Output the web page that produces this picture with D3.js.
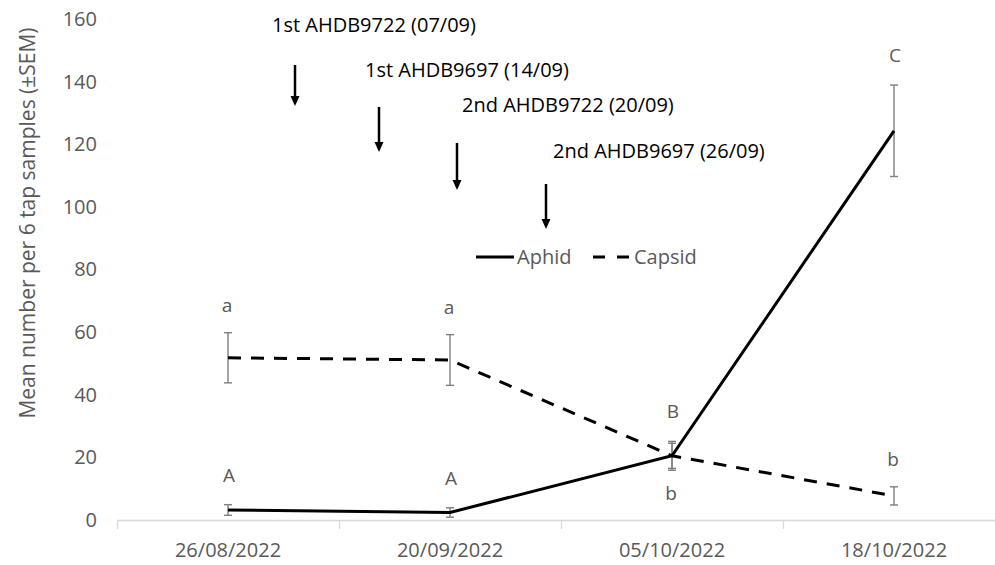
<!DOCTYPE html>
<html><head><meta charset="utf-8">
<script src="https://cdn.jsdelivr.net/npm/d3@7"></script>
<style>
body{margin:0;background:#fff}
svg{display:block}
text{font-family:"Open Sans",sans-serif}
</style>
</head><body>
<svg id="c" width="995" height="565"></svg>
<script>
// ---- data ----
const categories = ["26/08/2022", "20/09/2022", "05/10/2022", "18/10/2022"];
const aphidMean = [3.2, 2.4, 20.5, 124.3];
const aphidSEM = [1.7, 1.5, 4.6, 14.6];
const capsidMean = [51.8, 51.1, 20.5, 7.7];
const capsidSEM = [8.0, 8.1, 4.0, 2.9];
const aphidLetters = ["A", "A", "B", "C"];
const capsidLetters = ["a", "a", "b", "b"];
const capsidLetterSide = ["above", "above", "below", "above"];
const yTicks = [0, 20, 40, 60, 80, 100, 120, 140, 160];
const seriesNames = ["Aphid", "Capsid"];
const yTitle = "Mean number per 6 tap samples (\u00B1SEM)";
const sprayLabels = ["1st AHDB9722 (07/09)", "1st AHDB9697 (14/09)", "2nd AHDB9722 (20/09)", "2nd AHDB9697 (26/09)"];

// ---- layout (annotation placement, pixels) ----
const sprayLayout = [
  {tx: 272, ty: 32,  ax: 295, a0: 65,  a1: 106},
  {tx: 365, ty: 77,  ax: 379, a0: 107, a1: 152},
  {tx: 462, ty: 112, ax: 457, a0: 143, a1: 190},
  {tx: 553, ty: 158, ax: 546, a0: 184, a1: 229}
];

const svg = d3.select("#c");
const grey = "#595959";
const x = d3.scaleBand().domain(categories).range([117, 1005]).paddingInner(0).paddingOuter(0);
const y = d3.scaleLinear().domain([0, 160]).range([520, 19]);
const cx = c => x(c) + x.bandwidth() / 2;

// x axis line and boundary ticks
const g = svg.append("g");
g.append("line").attr("x1", 117).attr("x2", 1005).attr("y1", y(0) + 0.5).attr("y2", y(0) + 0.5)
  .attr("stroke", "#d9d9d9").attr("stroke-width", 1.3);
categories.forEach(c => {
  g.append("line").attr("x1", x(c) + 0.5).attr("x2", x(c) + 0.5)
    .attr("y1", y(0)).attr("y2", y(0) + 9).attr("stroke", "#d9d9d9").attr("stroke-width", 1.3);
});
const xAxis = svg.append("g").attr("transform", `translate(0,${y(0)})`)
  .call(d3.axisBottom(x).tickSize(0).tickPadding(23));
xAxis.select(".domain").remove();
xAxis.selectAll("text").attr("fill", grey).style("font-size", "20px").style("font-family", "'Open Sans',sans-serif");

// y axis labels
const yAxis = svg.append("g").attr("transform", "translate(103,0)")
  .call(d3.axisLeft(y).tickValues(yTicks).tickSize(0).tickPadding(6));
yAxis.select(".domain").remove();
yAxis.selectAll("text").attr("fill", grey).style("font-size", "20px").style("font-family", "'Open Sans',sans-serif");

svg.append("text").attr("transform", "translate(35,223) rotate(-90)")
  .attr("text-anchor", "middle").attr("fill", grey).style("font-size", "21px").text(yTitle);

// error bars
function errorBars(means, sems) {
  const eg = svg.append("g").attr("stroke", "#7f7f7f").attr("stroke-width", 1.4);
  categories.forEach((c, i) => {
    const px = cx(c), top = y(means[i] + sems[i]), bot = y(means[i] - sems[i]);
    eg.append("line").attr("x1", px).attr("x2", px).attr("y1", top).attr("y2", bot);
    eg.append("line").attr("x1", px - 4).attr("x2", px + 4).attr("y1", top).attr("y2", top);
    eg.append("line").attr("x1", px - 4).attr("x2", px + 4).attr("y1", bot).attr("y2", bot);
  });
}
errorBars(capsidMean, capsidSEM);
errorBars(aphidMean, aphidSEM);

// lines
const line = d3.line().x((d, i) => cx(categories[i])).y(d => y(d));
svg.append("path").datum(capsidMean).attr("d", line).attr("fill", "none")
  .attr("stroke", "#000").attr("stroke-width", 3).attr("stroke-dasharray", "13,10");
svg.append("path").datum(aphidMean).attr("d", line).attr("fill", "none")
  .attr("stroke", "#000").attr("stroke-width", 3);

// significance letters
const lg = svg.append("g").attr("fill", grey).style("font-size", "19px").attr("text-anchor", "middle");
categories.forEach((c, i) => {
  lg.append("text").attr("x", cx(c) + 1).attr("y", y(aphidMean[i] + aphidSEM[i]) - 23).text(aphidLetters[i]);
  const side = capsidLetterSide[i];
  const yy = side === "above" ? y(capsidMean[i] + capsidSEM[i]) - 21 : y(capsidMean[i] - capsidSEM[i]) + 32;
  lg.append("text").attr("x", cx(c) - 1).attr("y", yy).text(capsidLetters[i]);
});

// legend
const leg = svg.append("g");
leg.append("line").attr("x1", 476).attr("x2", 514).attr("y1", 257).attr("y2", 257)
  .attr("stroke", "#000").attr("stroke-width", 3);
leg.append("text").attr("x", 517).attr("y", 264).attr("fill", grey).style("font-size", "20px").text(seriesNames[0]);
leg.append("line").attr("x1", 593).attr("x2", 630).attr("y1", 257).attr("y2", 257)
  .attr("stroke", "#000").attr("stroke-width", 3).attr("stroke-dasharray", "12,12");
leg.append("text").attr("x", 634).attr("y", 264).attr("fill", grey).style("font-size", "20px").text(seriesNames[1]);

// spray annotations
const ag = svg.append("g");
sprayLabels.forEach((t, i) => {
  const L = sprayLayout[i];
  ag.append("text").attr("x", L.tx).attr("y", L.ty).attr("fill", "#000").style("font-size", "20px").text(t);
  ag.append("line").attr("x1", L.ax).attr("x2", L.ax).attr("y1", L.a0).attr("y2", L.a1 - 8)
    .attr("stroke", "#000").attr("stroke-width", 2.5);
  ag.append("path").attr("d", `M${L.ax - 4.5},${L.a1 - 10} L${L.ax + 4.5},${L.a1 - 10} L${L.ax},${L.a1} Z`).attr("fill", "#000");
});
</script>
</body></html>
